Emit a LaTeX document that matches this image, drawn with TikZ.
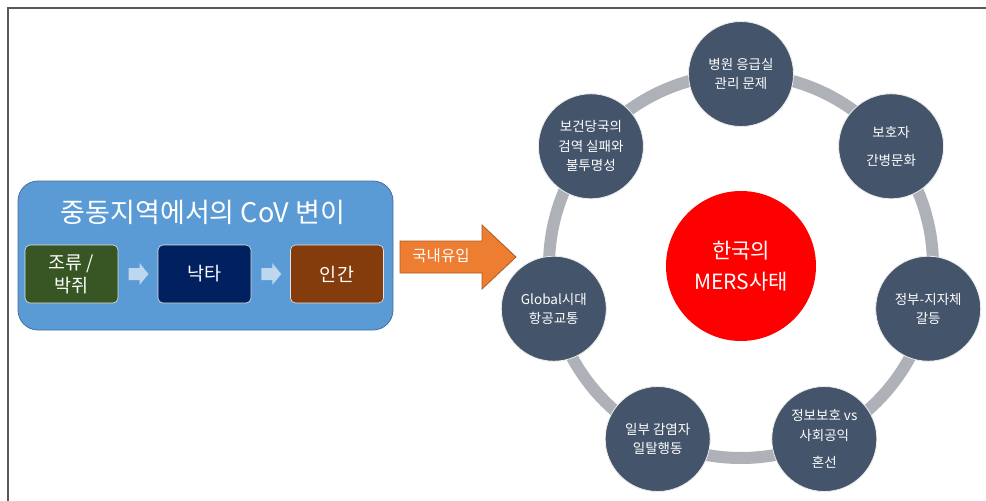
\documentclass[tikz,border=0pt]{standalone}
\usepackage{fontspec}
\setmainfont{Noto Sans CJK KR}
\usetikzlibrary{calc}
\definecolor{bigblue}{HTML}{5B9BD5}
\definecolor{bigblueline}{HTML}{41719C}
\definecolor{boxgreen}{HTML}{375623}
\definecolor{boxnavy}{HTML}{002060}
\definecolor{boxbrown}{HTML}{843C0C}
\definecolor{chevcol}{HTML}{BDD7EE}
\definecolor{orangefill}{HTML}{ED7D31}
\definecolor{orangeline}{HTML}{AE5A21}
\definecolor{ringgray}{HTML}{AEB1B7}
\definecolor{issuefill}{HTML}{44546A}
\definecolor{framecol}{HTML}{595959}
\tikzset{
  framebox/.style={draw=framecol, line width=1.5pt},
  bigbox/.style={draw=bigblueline, line width=0.8pt, fill=bigblue, rounded corners=20pt,
    minimum width=375pt, minimum height=149pt, inner sep=0pt},
  titletext/.style={text=white, font=\fontsize{27}{30}\selectfont, inner sep=0pt},
  smallbox/.style={draw=white!80!gray, line width=0.6pt, rounded corners=5pt,
    minimum width=93pt, minimum height=58pt, inner sep=0pt, text=white, align=center,
    font=\fontsize{18.5}{23}\selectfont},
  chev/.style={fill=chevcol, draw=none},
  bigarrow/.style={fill=orangefill, draw=orangeline, line width=0.8pt},
  arrowtext/.style={text=white, font=\fontsize{15.5}{17}\selectfont, inner sep=0pt},
  ring/.style={draw=ringgray, line width=12pt},
  redcircle/.style={circle, fill=red, draw=none, minimum size=150pt, inner sep=0pt,
    text=white, align=center, font=\fontsize{21}{31}\selectfont},
  issue/.style={circle, fill=issuefill, draw=white!85!gray, line width=0.8pt,
    minimum size=105pt, inner sep=0pt, text=white, align=center,
    font=\fontsize{13.5}{19.5}\selectfont}
}
\begin{document}
\begin{tikzpicture}[x=1pt,y=-1pt]
\useasboundingbox (0,0) rectangle (986,501);
\fill[white] (0,0) rectangle (986,501);
\draw[framebox] (8,501) -- (8,8) -- (986,8);

% left group
\node[bigbox] (grp) at (205.5,255.5) {};
\node[titletext] (ttl) at (203,212) {중동지역에서의 CoV 변이};
\node[smallbox, fill=boxgreen] (b1) at (71.5,274) {조류 /\\박쥐};
\node[smallbox, fill=boxnavy] (b2) at (204.5,274) {낙타};
\node[smallbox, fill=boxbrown] (b3) at (337,274) {인간};

\coordinate (m1) at ($(b1.east)!0.5!(b2.west)$);
\coordinate (m2) at ($(b2.east)!0.5!(b3.west)$);
\foreach \m in {m1,m2}{
  \fill[chev] ($(\m)+(-9.5,-6)$) -- ($(\m)+(1.5,-6)$) -- ($(\m)+(1.5,-11)$) -- ($(\m)+(10.5,0)$)
    -- ($(\m)+(1.5,11)$) -- ($(\m)+(1.5,6)$) -- ($(\m)+(-9.5,6)$) -- cycle;
}

% orange arrow
\coordinate (ab) at (400,257);
\draw[bigarrow] ($(ab)+(0,-16)$) -- ($(ab)+(82,-16)$) -- ($(ab)+(82,-32)$) -- ($(ab)+(116,0)$)
  -- ($(ab)+(82,32)$) -- ($(ab)+(82,16)$) -- ($(ab)+(0,16)$) -- cycle;
\node[arrowtext] (imp) at (441,256) {국내유입};

% ring
\coordinate (c) at (741,266);
\draw[ring] (c) circle[radius=192];
\node[redcircle] (mers) at (c) {한국의\\MERS사태};

\node[issue] (n1) at (741,74) {병원 응급실\\관리 문제};
\node[issue] (n2) at (891.1,146.3) {보호자\\[9pt]간병문화};
\node[issue] (n3) at (928.2,308.7) {정부-지자체\\갈등};
\node[issue] (n4) at (824.3,439) {정보보호 vs\\사회공익\\[8pt]혼선};
\node[issue] (n5) at (657.7,439) {일부 감염자\\일탈행동};
\node[issue] (n6) at (553.8,308.7) {Global시대\\항공교통};
\node[issue] (n7) at (590.9,146.3) {보건당국의\\검역 실패와\\불투명성};
\end{tikzpicture}
\end{document}
